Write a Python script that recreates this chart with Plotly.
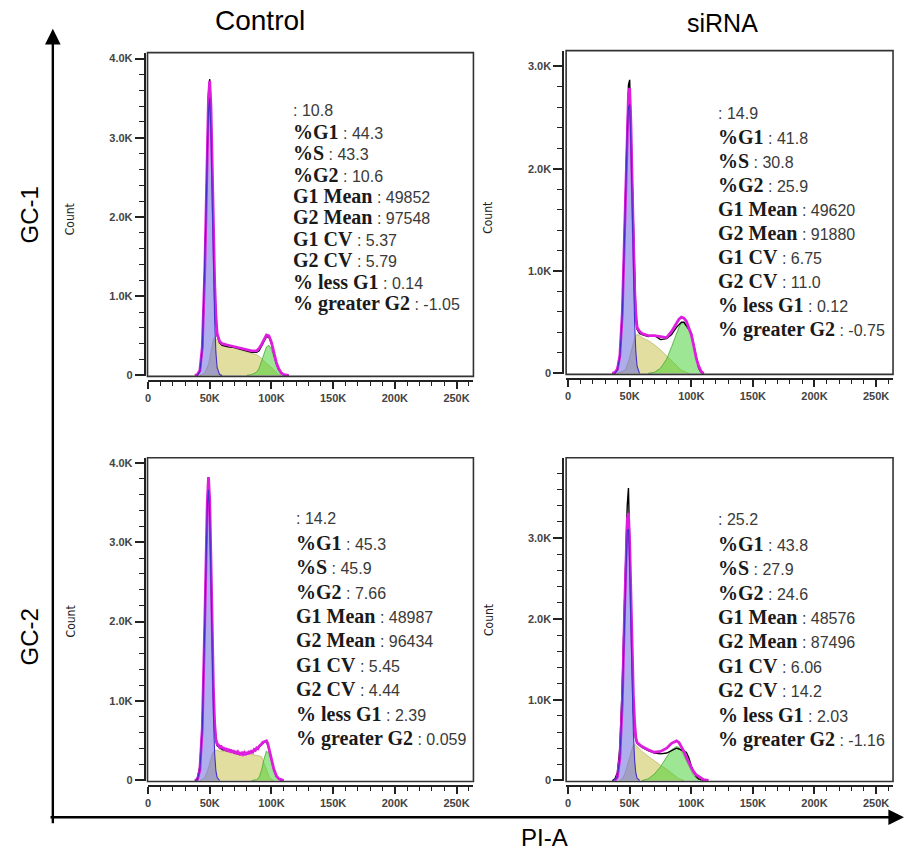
import plotly.graph_objects as go

W, H = 905, 856

# ---------------- data (counts in thousands, PI-A in thousands) ----------------
X = [0, 36, 38, 40, 42, 44, 46, 47, 48, 49, 50, 51, 52, 53, 54, 55, 56, 58, 60, 65, 70,
     75, 80, 84, 88, 90, 92, 94, 96, 98, 100, 102, 104, 106, 108, 110, 114, 120, 262]

# Control / GC-1
p1_g1 = [0, 0, 0, 0, 0.05, 0.34, 1.27, 2.00, 2.77, 3.34, 3.50, 3.08, 2.26, 1.37, 0.69, 0.29, 0.10, 0.01, 0,
         0, 0, 0, 0, 0, 0, 0, 0, 0, 0, 0, 0, 0, 0, 0, 0, 0, 0, 0, 0]
p1_s = [0, 0, 0, 0, 0, 0.01, 0.03, 0.06, 0.10, 0.14, 0.21, 0.30, 0.39, 0.46, 0.48, 0.46, 0.43, 0.40, 0.39,
        0.37, 0.35, 0.32, 0.30, 0.28, 0.26, 0.24, 0.21, 0.18, 0.15, 0.12, 0.09, 0.06, 0.03, 0.01, 0, 0, 0, 0, 0]
p1_g2 = [0, 0, 0, 0, 0, 0, 0, 0, 0, 0, 0, 0, 0, 0, 0, 0, 0, 0, 0, 0, 0, 0, 0,
         0.01, 0.04, 0.09, 0.18, 0.28, 0.36, 0.38, 0.33, 0.23, 0.13, 0.06, 0.03, 0.01, 0, 0, 0]
p1_fit = [0, 0, 0, 0.01, 0.06, 0.36, 1.32, 2.08, 2.88, 3.50, 3.72, 3.40, 2.68, 1.85, 1.18, 0.76, 0.53, 0.43, 0.40,
          0.38, 0.36, 0.34, 0.32, 0.31, 0.31, 0.34, 0.39, 0.46, 0.51, 0.50, 0.42, 0.29, 0.16, 0.08, 0.03, 0.01, 0, 0, 0]
p1_data = [0, 0, 0, 0.01, 0.05, 0.33, 1.30, 2.10, 2.95, 3.55, 3.74, 3.38, 2.62, 1.80, 1.13, 0.72, 0.50, 0.41, 0.38,
           0.36, 0.35, 0.33, 0.31, 0.29, 0.29, 0.31, 0.37, 0.44, 0.49, 0.48, 0.40, 0.27, 0.15, 0.07, 0.03, 0.01, 0, 0, 0]

# siRNA / GC-1
p2_g1 = [0, 0, 0, 0.03, 0.16, 0.57, 1.41, 1.91, 2.34, 2.60, 2.63, 2.23, 1.61, 0.97, 0.49, 0.21, 0.07, 0, 0,
         0, 0, 0, 0, 0, 0, 0, 0, 0, 0, 0, 0, 0, 0, 0, 0, 0, 0, 0, 0]
p2_s = [0, 0, 0, 0, 0.01, 0.02, 0.03, 0.05, 0.08, 0.12, 0.16, 0.21, 0.26, 0.31, 0.34, 0.37, 0.38, 0.37, 0.35,
        0.32, 0.28, 0.23, 0.17, 0.12, 0.07, 0.05, 0.03, 0.02, 0.01, 0, 0, 0, 0, 0, 0, 0, 0, 0, 0]
p2_g2 = [0, 0, 0, 0, 0, 0, 0, 0, 0, 0, 0, 0, 0, 0, 0, 0, 0, 0, 0, 0,
         0.01, 0.05, 0.14, 0.26, 0.39, 0.45, 0.49, 0.50, 0.48, 0.43, 0.36, 0.25, 0.14, 0.06, 0.02, 0, 0, 0, 0]
p2_fit = [0, 0, 0.01, 0.04, 0.17, 0.59, 1.44, 1.96, 2.42, 2.72, 2.79, 2.44, 1.87, 1.28, 0.83, 0.58, 0.45, 0.41, 0.39,
          0.37, 0.37, 0.36, 0.35, 0.41, 0.49, 0.53, 0.55, 0.54, 0.51, 0.45, 0.38, 0.27, 0.15, 0.07, 0.02, 0, 0, 0, 0]
p2_data = [0, 0, 0.01, 0.05, 0.18, 0.60, 1.48, 2.00, 2.50, 2.82, 2.87, 2.40, 1.80, 1.22, 0.78, 0.54, 0.43, 0.39, 0.38,
           0.36, 0.37, 0.33, 0.34, 0.38, 0.45, 0.48, 0.50, 0.50, 0.46, 0.43, 0.40, 0.28, 0.14, 0.05, 0.01, 0, 0, 0, 0]

# Control / GC-2
p3_g1 = [0, 0, 0, 0.01, 0.13, 0.66, 1.97, 2.78, 3.42, 3.66, 3.33, 2.51, 1.56, 0.81, 0.34, 0.12, 0.04, 0, 0,
         0, 0, 0, 0, 0, 0, 0, 0, 0, 0, 0, 0, 0, 0, 0, 0, 0, 0, 0, 0]
p3_s = [0, 0, 0, 0, 0, 0.01, 0.04, 0.07, 0.11, 0.16, 0.22, 0.28, 0.33, 0.36, 0.38, 0.38, 0.38, 0.37, 0.37,
        0.36, 0.35, 0.34, 0.34, 0.33, 0.32, 0.31, 0.30, 0.22, 0.12, 0.05, 0.01, 0, 0, 0, 0, 0, 0, 0, 0]
p3_g2 = [0, 0, 0, 0, 0, 0, 0, 0, 0, 0, 0, 0, 0, 0, 0, 0, 0, 0, 0, 0, 0, 0, 0, 0,
         0.01, 0.04, 0.13, 0.27, 0.37, 0.34, 0.25, 0.14, 0.06, 0.02, 0.01, 0, 0, 0, 0]
p3_data = [0, 0, 0, 0.03, 0.18, 0.70, 2.00, 2.80, 3.50, 3.80, 3.50, 2.75, 1.85, 1.13, 0.70, 0.50, 0.44, 0.41, 0.39,
           0.37, 0.35, 0.33, 0.34, 0.36, 0.39, 0.42, 0.45, 0.48, 0.49, 0.40, 0.26, 0.13, 0.05, 0.02, 0, 0, 0, 0, 0]
p3_fit_x = [0, 36, 38, 40, 42, 44, 46, 47, 48, 49, 50,
            51, 52, 53, 54, 55, 56, 57, 58, 59, 60, 61, 62, 63, 64, 65, 66, 67, 68, 69, 70, 71, 72, 73, 74,
            75, 76, 77, 78, 79, 80, 81, 82, 83, 84, 85, 86, 87, 88, 89, 90, 91, 92, 93, 94, 95, 96, 97, 98,
            100, 102, 104, 106, 108, 110, 120, 262]
p3_fit = [0, 0, 0, 0.01, 0.13, 0.66, 1.99, 2.82, 3.50, 3.82, 3.53,
          2.78, 1.88, 1.16, 0.72, 0.52, 0.46, 0.45, 0.42, 0.44, 0.40, 0.42, 0.38, 0.41, 0.37, 0.40, 0.36, 0.39,
          0.35, 0.38, 0.34, 0.37, 0.33, 0.36, 0.34, 0.32, 0.36, 0.33, 0.35, 0.32, 0.36, 0.33, 0.37, 0.34, 0.38,
          0.36, 0.39, 0.38, 0.41, 0.40, 0.43, 0.44, 0.46, 0.48, 0.49, 0.50, 0.50, 0.47, 0.41,
          0.27, 0.14, 0.06, 0.02, 0.01, 0, 0, 0]

# siRNA / GC-2
p4_g1 = [0, 0, 0.01, 0.05, 0.28, 0.97, 2.16, 2.73, 3.09, 3.11, 2.66, 1.91, 1.16, 0.59, 0.25, 0.09, 0.03, 0, 0,
         0, 0, 0, 0, 0, 0, 0, 0, 0, 0, 0, 0, 0, 0, 0, 0, 0, 0, 0, 0]
p4_s = [0, 0, 0, 0, 0, 0.02, 0.08, 0.13, 0.19, 0.24, 0.30, 0.36, 0.41, 0.44, 0.45, 0.44, 0.42, 0.39, 0.36,
        0.30, 0.24, 0.19, 0.14, 0.09, 0.04, 0.02, 0.01, 0, 0, 0, 0, 0, 0, 0, 0, 0, 0, 0, 0]
p4_g2 = [0, 0, 0, 0, 0, 0, 0, 0, 0, 0, 0, 0, 0, 0, 0, 0, 0, 0, 0,
         0.02, 0.08, 0.17, 0.29, 0.38, 0.42, 0.41, 0.37, 0.31, 0.24, 0.17, 0.11, 0.06, 0.03, 0.01, 0, 0, 0, 0, 0]
p4_fit = [0, 0, 0, 0.04, 0.27, 0.96, 2.18, 2.80, 3.22, 3.31, 2.95, 2.30, 1.60, 1.05, 0.72, 0.53, 0.47, 0.44, 0.42,
          0.38, 0.35, 0.36, 0.40, 0.46, 0.49, 0.47, 0.42, 0.36, 0.29, 0.22, 0.16, 0.11, 0.07, 0.05, 0.03, 0.01, 0, 0, 0]
p4_data = [0, 0, 0.02, 0.10, 0.40, 1.20, 2.35, 2.90, 3.40, 3.62, 2.95, 2.10, 1.30, 0.85, 0.62, 0.50, 0.46, 0.43, 0.41,
           0.37, 0.34, 0.33, 0.34, 0.37, 0.40, 0.39, 0.37, 0.36, 0.35, 0.28, 0.18, 0.10, 0.05, 0.02, 0.01, 0, 0, 0, 0]

# statistics text
stat_labels = ["", "%G1", "%S", "%G2", "G1 Mean", "G2 Mean", "G1 CV", "G2 CV", "% less G1", "% greater G2"]
p1_stats = ["10.8", "44.3", "43.3", "10.6", "49852", "97548", "5.37", "5.79", "0.14", "-1.05"]
p2_stats = ["14.9", "41.8", "30.8", "25.9", "49620", "91880", "6.75", "11.0", "0.12", "-0.75"]
p3_stats = ["14.2", "45.3", "45.9", "7.66", "48987", "96434", "5.45", "4.44", "2.39", "0.059"]
p4_stats = ["25.2", "43.8", "27.9", "24.6", "48576", "87496", "6.06", "14.2", "2.03", "-1.16"]

col_titles = ["Control", "siRNA"]
row_titles = ["GC-1", "GC-2"]
x_title = "PI-A"
y_title = "Count"
x_tickvals = [0, 50, 100, 150, 200, 250]
x_ticktext = ["0", "50K", "100K", "150K", "200K", "250K"]
y_tickvals = [0, 1, 2, 3, 4]
y_ticktext = ["0", "1.0K", "2.0K", "3.0K", "4.0K"]

# ---------------- layout geometry (pixels) ----------------
panels = [
    dict(s="", comps=(p1_g1, p1_s, p1_g2), fit=(X, p1_fit), data=p1_data, stats=p1_stats,
         box=(145, 472, 52, 378), xr=(-0.4, 263.7), yr=(-0.0125, 4.075), xaxis_y=383, yaxis_x=142,
         tx=290, ty0=110, tdy=21.6, cnt=(68, 220)),
    dict(s="2", comps=(p2_g1, p2_s, p2_g2), fit=(X, p2_fit), data=p2_data, stats=p2_stats,
         box=(565, 893, 50, 376), xr=(-1.6, 263.8), yr=(-0.0097, 3.155), xaxis_y=381, yaxis_x=562,
         tx=716, ty0=113, tdy=24.2, cnt=(487, 218)),
    dict(s="3", comps=(p3_g1, p3_s, p3_g2), fit=(p3_fit_x, p3_fit), data=p3_data, stats=p3_stats,
         box=(145, 472, 460, 786), xr=(-0.4, 263.7), yr=(-0.0125, 4.0625), xaxis_y=791, yaxis_x=142,
         tx=293, ty0=521, tdy=24.6, cnt=(68, 625)),
    dict(s="4", comps=(p4_g1, p4_s, p4_g2), fit=(X, p4_fit), data=p4_data, stats=p4_stats,
         box=(565, 893, 460, 786), xr=(-1.6, 263.8), yr=(-0.0123, 3.993), xaxis_y=791, yaxis_x=562,
         tx=716, ty0=522, tdy=24.6, cnt=(487, 623)),
]


def fx(p):
    return p / W


def fy(p):
    return 1 - p / H


def trim(xs, ys):
    nz = [i for i, v in enumerate(ys) if v > 0]
    a = max(nz[0] - 1, 0)
    b = min(nz[-1] + 1, len(ys) - 1)
    return xs[a:b + 1], ys[a:b + 1]


fig = go.Figure()
shapes = []
annotations = []
layout_axes = {}

tick_font = dict(family="Liberation Sans, Arial", size=11, color="#444", weight="bold")

for P in panels:
    s = P["s"]
    xa, ya = "x" + s, "y" + s
    g1, sp, g2 = P["comps"]
    # S phase (yellow)
    x_, y_ = trim(X, sp)
    fig.add_trace(go.Scatter(x=x_, y=y_, mode="lines", fill="tozeroy",
                             fillcolor="rgb(226,222,160)", line=dict(color="rgb(190,185,110)", width=0.8),
                             xaxis=xa, yaxis=ya, hoverinfo="skip"))
    # G2 (green)
    x_, y_ = trim(X, g2)
    fig.add_trace(go.Scatter(x=x_, y=y_, mode="lines", fill="tozeroy",
                             fillcolor="rgba(60,205,40,0.5)", line=dict(color="rgb(70,170,50)", width=0.8),
                             xaxis=xa, yaxis=ya, hoverinfo="skip"))
    # G1 (blue) fill
    gx, gy = trim(X, g1)
    fig.add_trace(go.Scatter(x=gx, y=gy, mode="lines", fill="tozeroy",
                             fillcolor="rgba(100,100,225,0.52)", line=dict(width=0),
                             xaxis=xa, yaxis=ya, hoverinfo="skip"))
    # measured data (black)
    x_, y_ = trim(X, P["data"])
    fig.add_trace(go.Scatter(x=x_, y=y_, mode="lines", line=dict(color="black", width=1.4),
                             xaxis=xa, yaxis=ya, hoverinfo="skip"))
    # model fit (magenta)
    x_, y_ = trim(*P["fit"])
    fig.add_trace(go.Scatter(x=x_, y=y_, mode="lines", line=dict(color="rgb(222,30,222)", width=2.8),
                             xaxis=xa, yaxis=ya, hoverinfo="skip"))
    # G1 outline
    fig.add_trace(go.Scatter(x=gx, y=gy, mode="lines", line=dict(color="rgb(70,45,200)", width=1.1),
                             xaxis=xa, yaxis=ya, hoverinfo="skip"))

    l, r, t, b = P["box"]
    layout_axes["xaxis" + s] = dict(
        domain=[fx(l), fx(r)], range=list(P["xr"]), anchor="free", position=fy(P["xaxis_y"]),
        showline=True, linecolor="#222", linewidth=1.6, showgrid=False, zeroline=False,
        ticks="outside", ticklen=7, tickwidth=1.6, tickcolor="#222",
        tickvals=x_tickvals, ticktext=x_ticktext, tickfont=tick_font,
        minor=dict(dtick=10, tick0=0, ticks="outside", ticklen=4, tickwidth=1.2, tickcolor="#222", showgrid=False),
        fixedrange=True)
    layout_axes["yaxis" + s] = dict(
        domain=[fy(b), fy(t)], range=list(P["yr"]), anchor="free", position=fx(P["yaxis_x"]),
        showline=True, linecolor="#222", linewidth=1.6, showgrid=False, zeroline=False,
        ticks="outside", ticklen=9, tickwidth=1.6, tickcolor="#222",
        tickvals=y_tickvals, ticktext=y_ticktext, tickfont=tick_font,
        minor=dict(dtick=0.2, tick0=0, ticks="outside", ticklen=5, tickwidth=1.2, tickcolor="#222", showgrid=False),
        fixedrange=True)
    # plot frame
    shapes.append(dict(type="rect", xref="paper", yref="paper", x0=fx(l), x1=fx(r), y0=fy(b), y1=fy(t),
                       line=dict(color="#333", width=1.6), fillcolor="rgba(0,0,0,0)", layer="above"))
    # Count label
    cx, cy = P["cnt"]
    annotations.append(dict(x=fx(cx), y=fy(cy), xref="paper", yref="paper", text=y_title, showarrow=False,
                            textangle=-90, xanchor="center", yanchor="middle",
                            font=dict(family="Liberation Sans Narrow, Arial Narrow, DejaVu Sans Condensed",
                                      size=12, color="#222")))
    # statistics
    for i, (lab, val) in enumerate(zip(stat_labels, P["stats"])):
        if lab:
            txt = ("<b><span style='font-family:Liberation Serif, Times New Roman, serif;font-size:20px;"
                   "color:#1a1a1a'>" + lab + "</span></b> : " + val)
        else:
            txt = ": " + val
        annotations.append(dict(x=fx(P["tx"]), y=fy(P["ty0"] + i * P["tdy"]), xref="paper", yref="paper",
                                text=txt, showarrow=False, xanchor="left", yanchor="middle", borderpad=0,
                                font=dict(family="Liberation Sans, Arial", size=16, color="#3a3a3a")))

# column / row / axis titles
big = dict(family="Liberation Sans, Arial", size=24, color="black")
annotations.append(dict(x=fx(258), y=fy(20), xref="paper", yref="paper", text=col_titles[0], showarrow=False,
                        xanchor="center", yanchor="middle",
                        font=dict(family="Liberation Sans, Arial", size=28, color="black")))
annotations.append(dict(x=fx(722), y=fy(22), xref="paper", yref="paper", text=col_titles[1], showarrow=False,
                        xanchor="center", yanchor="middle",
                        font=dict(family="Liberation Sans, Arial", size=25, color="black")))
annotations.append(dict(x=fx(27), y=fy(215), xref="paper", yref="paper", text=row_titles[0], showarrow=False,
                        textangle=-90, xanchor="center", yanchor="middle", font=big))
annotations.append(dict(x=fx(27), y=fy(640), xref="paper", yref="paper", text=row_titles[1], showarrow=False,
                        textangle=-90, xanchor="center", yanchor="middle", font=big))
annotations.append(dict(x=fx(543), y=fy(842), xref="paper", yref="paper", text=x_title, showarrow=False,
                        xanchor="center", yanchor="middle", font=big))

# large L-shaped arrows
annotations.append(dict(x=fx(50), y=fy(28), xref="paper", yref="paper", text="", showarrow=True,
                        ax=0, ay=796, axref="pixel", ayref="pixel", arrowhead=2, arrowsize=1.3,
                        arrowwidth=2.4, arrowcolor="black", standoff=0))
annotations.append(dict(x=fx(904), y=fy(822), xref="paper", yref="paper", text="", showarrow=True,
                        ax=-855, ay=0, axref="pixel", ayref="pixel", arrowhead=2, arrowsize=1.3,
                        arrowwidth=2.4, arrowcolor="black", standoff=0))

fig.update_layout(
    width=W, height=H, margin=dict(l=0, r=0, t=0, b=0),
    paper_bgcolor="white", plot_bgcolor="white", showlegend=False,
    shapes=shapes, annotations=annotations, **layout_axes)

fig.write_html("out.html", config={"displayModeBar": False},
               post_script="document.body.style.margin='0';document.body.style.overflow='hidden';")
